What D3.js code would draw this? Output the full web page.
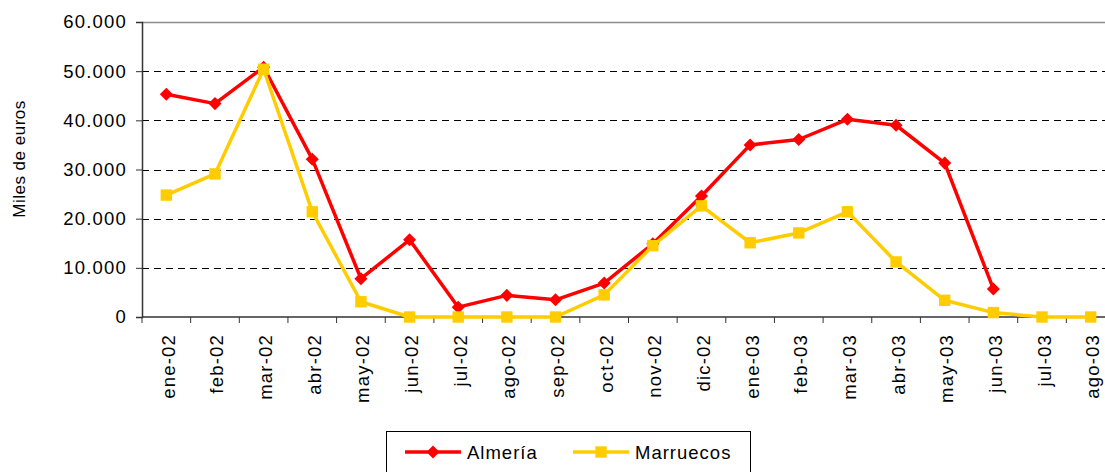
<!DOCTYPE html>
<html>
<head>
<meta charset="utf-8">
<script src="https://cdn.jsdelivr.net/npm/d3@7"></script>
<style>
  body { margin: 0; background: #fff; }
  svg { display: block; font-family: "Liberation Sans", Arial, sans-serif; }
</style>
</head>
<body>
<script>
        // month labels on the x axis
        var meses = ["ene-02","feb-02","mar-02","abr-02","may-02","jun-02","jul-02","ago-02",
            "sep-02","oct-02","nov-02","dic-02","ene-03","feb-03","mar-03","abr-03",
            "may-03","jun-03","jul-03","ago-03"];

        // values in miles de euros (null = no data)
        var almeria = [45300, 43400, 50800, 32100, 7800, 15700, 2000, 4400,
            3500, 6900, 14900, 24600, 35000, 36100, 40200, 39000,
            31300, 5700, null, null];
        var marruecos = [24800, 29100, 50400, 21400, 3100, 0, 0, 0,
            0, 4500, 14500, 22600, 15100, 17100, 21400, 11200,
            3400, 900, 0, 0];

        var yTicks = [0, 10000, 20000, 30000, 40000, 50000, 60000];

        var width = 1105, height = 472;
        var plotLeft = 142, plotTop = 22, plotBottom = 317;
        var plotRight = 1115; // plot runs past the picture edge

        var svg = d3.select("body")
            .append("svg")
            .attr("width", width)
            .attr("height", height);

        var x = d3.scaleBand()
            .domain(meses)
            .range([plotLeft, plotRight]);

        var y = d3.scaleLinear()
            .domain([0, 60000])
            .range([plotBottom, plotTop]);

        var fmt = function(v) {
            return d3.format(",")(v).replace(/,/g, ".");
        };

        // dashed grid lines
        svg.selectAll(".grid")
            .data(yTicks.filter(function(d){ return d > 0 && d < 60000; }))
            .enter()
            .append("line")
            .attr("x1", plotLeft)
            .attr("x2", width)
            .attr("y1", function(d){ return Math.round(y(d)) + 0.5; })
            .attr("y2", function(d){ return Math.round(y(d)) + 0.5; })
            .attr("stroke", "#000")
            .attr("stroke-width", 1)
            .attr("stroke-dasharray", "7,5");

        // top border of the plot
        svg.append("line")
            .attr("x1", plotLeft).attr("x2", width)
            .attr("y1", y(60000) + 0.5).attr("y2", y(60000) + 0.5)
            .attr("stroke", "#8c8c8c")
            .attr("stroke-width", 1.5);

        // y axis
        var yAxis = svg.append("g")
            .attr("transform", "translate(" + plotLeft + ",0)")
            .call(d3.axisLeft(y).tickValues(yTicks).tickFormat(fmt).tickSize(6).tickPadding(9));
        yAxis.select(".domain").attr("stroke", "#333").attr("stroke-width", 1.5);
        yAxis.selectAll(".tick line").attr("stroke", "#333");
        yAxis.selectAll("text")
            .attr("font-size", 18.5)
            .attr("letter-spacing", 1.2)
            .attr("font-family", "Liberation Sans, Arial, sans-serif")
            .attr("fill", "#000");

        // x axis, ticks between categories
        var xAxis = svg.append("g")
            .attr("transform", "translate(0," + plotBottom + ")");
        xAxis.append("line")
            .attr("x1", plotLeft).attr("x2", width)
            .attr("y1", 0).attr("y2", 0)
            .attr("stroke", "#333").attr("stroke-width", 1.5);
        xAxis.selectAll(".xt")
            .data(meses)
            .enter()
            .append("line")
            .attr("x1", function(d){ return x(d); })
            .attr("x2", function(d){ return x(d); })
            .attr("y1", 0).attr("y2", 6)
            .attr("stroke", "#333");
        xAxis.selectAll(".xl")
            .data(meses)
            .enter()
            .append("text")
            .attr("transform", function(d) {
                return "translate(" + (x(d) + x.bandwidth() / 2 + 2) + ",17) rotate(-90)";
            })
            .attr("dy", ".35em")
            .style("text-anchor", "end")
            .attr("font-size", 18.5)
            .attr("letter-spacing", 1.2)
            .attr("fill", "#000")
            .text(function(d){ return d; });

        // y axis title
        svg.append("text")
            .attr("transform", "translate(25,159) rotate(-90)")
            .style("text-anchor", "middle")
            .attr("font-size", 17)
            .attr("letter-spacing", 0.5)
            .attr("fill", "#000")
            .text("Miles de euros");

        var cx = function(i) { return x(meses[i]) + x.bandwidth() / 2; };

        var line = d3.line()
            .defined(function(d){ return d != null; })
            .x(function(d, i){ return cx(i); })
            .y(function(d){ return y(d); });

        var series = [
            {name: "Almería", values: almeria, color: "#ff0000", symbol: d3.symbolSquare, size: 85, rot: 45},
            {name: "Marruecos", values: marruecos, color: "#ffcc00", symbol: d3.symbolSquare, size: 130, rot: 0}
        ];

        series.forEach(function(s) {
            svg.append("path")
                .datum(s.values)
                .attr("d", line)
                .attr("fill", "none")
                .attr("stroke", s.color)
                .attr("stroke-width", 3.5)
                .attr("stroke-linejoin", "round");

            svg.selectAll(null)
                .data(s.values.map(function(v, i){ return {v: v, i: i}; })
                    .filter(function(d){ return d.v != null; }))
                .enter()
                .append("path")
                .attr("d", d3.symbol().type(s.symbol).size(s.size))
                .attr("transform", function(d) {
                    return "translate(" + cx(d.i) + "," + y(d.v) + ") rotate(" + s.rot + ")";
                })
                .attr("fill", s.color);
        });

        // legend
        var legend = svg.append("g");
        legend.append("rect")
            .attr("x", 386.5).attr("y", 431.5)
            .attr("width", 364).attr("height", 50)
            .attr("fill", "#fff")
            .attr("stroke", "#000")
            .attr("stroke-width", 1);

        var legPos = [{lx: 405, tx: 467}, {lx: 573, tx: 635}];
        series.forEach(function(s, i) {
            var p = legPos[i];
            legend.append("line")
                .attr("x1", p.lx).attr("x2", p.lx + 56)
                .attr("y1", 452).attr("y2", 452)
                .attr("stroke", s.color)
                .attr("stroke-width", 3.5);
            legend.append("path")
                .attr("d", d3.symbol().type(s.symbol).size(s.size))
                .attr("transform", "translate(" + (p.lx + 28) + ",452) rotate(" + s.rot + ")")
                .attr("fill", s.color);
            legend.append("text")
                .attr("x", p.tx).attr("y", 459)
                .attr("font-size", 18.5)
                .attr("letter-spacing", 1)
                .attr("fill", "#000")
                .text(s.name);
        });
</script>
</body>
</html>
